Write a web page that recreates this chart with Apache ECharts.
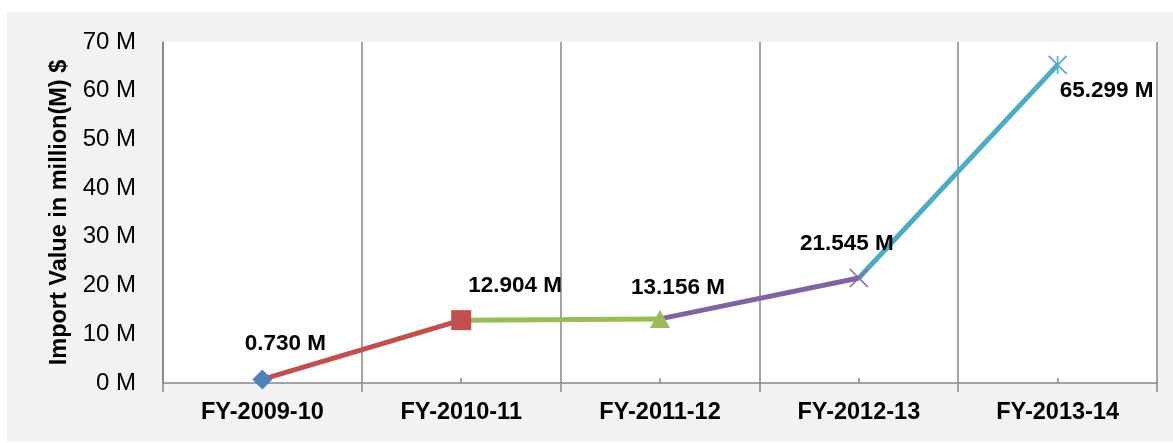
<!DOCTYPE html>
<html>
<head>
<meta charset="utf-8">
<script src="https://cdn.jsdelivr.net/npm/echarts@6/dist/echarts.min.js"></script>
<style>
  html, body { margin: 0; padding: 0; background: #fff; }
  #chart { position: absolute; left: 7px; top: 12px; width: 1166px; height: 430px; }
</style>
</head>
<body>
<div id="chart"></div>
<script>
const years = ['FY-2009-10', 'FY-2010-11', 'FY-2011-12', 'FY-2012-13', 'FY-2013-14']
const importValues = [0.730, 12.904, 13.156, 21.545, 65.299]
const yTicks = [0, 70, 10] // min, max, step

// look of each point / segment (Excel 2010 palette)
const segColors = ['#c0504d', '#9bbb59', '#8064a2', '#4bacc6']
const markColors = ['#4f81bd', '#c0504d', '#9bbb59', '#8064a2', '#4bacc6']
const markSymbols = ['diamond', 'rect', 'triangle',
  'path://M0,0L10,10M10,0L0,10',
  'path://M0,0L10,10M10,0L0,10M5,0L5,10']
const labelOffsets = [[23, -36], [54, -34], [18, -31], [-12, -34], [49, 26]]

const font = 'Liberation Sans, Arial, sans-serif'
const gray = '#868686'
const ink = '#000'

const chart = echarts.init(document.getElementById('chart'))

// one line series per segment so every segment gets its own colour
const segSeries = segColors.map((c, i) => ({
  type: 'line',
  data: importValues.map((v, j) => (j === i || j === i + 1) ? v : '-'),
  symbol: 'none',
  lineStyle: { width: 5, color: c },
  z: 2,
  silent: true
}))

const markSeries = {
  type: 'scatter',
  z: 5,
  data: importValues.map((v, i) => {
    const isPath = markSymbols[i].startsWith('path')
    return {
      value: v,
      symbol: markSymbols[i],
      symbolSize: isPath ? 18 : (i === 2 ? [20, 18] : 20),
      itemStyle: isPath
        ? { color: 'rgba(0,0,0,0)', borderColor: markColors[i], borderWidth: 1.6, opacity: 1 }
        : { color: markColors[i], opacity: 1 },
      label: { offset: labelOffsets[i] }
    }
  }),
  label: {
    show: true,
    position: 'inside',
    formatter: p => p.value.toFixed(3) + ' M',
    fontFamily: font,
    fontWeight: 'bold',
    fontSize: 22.5,
    color: ink,
    opacity: 1
  }
}

chart.setOption({
  backgroundColor: '#f2f2f2',
  animation: false,
  grid: {
    left: 156, right: 16, top: 30, bottom: 59,
    show: true, backgroundColor: '#fff', borderWidth: 0
  },
  xAxis: [{
    type: 'category',
    data: years,
    axisLine: { lineStyle: { color: gray, width: 1.5 } },
    axisTick: { show: true, length: 9, lineStyle: { color: gray, width: 1.5 } },
    splitLine: { show: true, lineStyle: { color: gray, width: 1.5 } },
    axisLabel: {
      margin: 18, fontFamily: font, fontWeight: 'bold', fontSize: 23.5, color: ink, interval: 0
    }
  }, {
    type: 'category',
    data: years,
    position: 'bottom',
    axisLine: { show: false },
    axisLabel: { show: false },
    axisTick: { show: true, inside: true, alignWithLabel: true, length: 5, lineStyle: { color: gray, width: 1.5 } },
    splitLine: { show: false }
  }],
  yAxis: {
    type: 'value',
    min: yTicks[0], max: yTicks[1], interval: yTicks[2],
    name: 'Import Value in million(M) $',
    nameLocation: 'middle',
    nameGap: 90,
    nameTextStyle: { fontFamily: font, fontWeight: 'bold', fontSize: 23.5, color: ink },
    axisLine: { show: true, lineStyle: { color: gray, width: 1.5 } },
    axisTick: { show: false },
    splitLine: { show: false },
    axisLabel: {
      formatter: '{value} M', margin: 27, fontFamily: font, fontSize: 24, color: ink
    }
  },
  series: [...segSeries, markSeries]
})
</script>
</body>
</html>
